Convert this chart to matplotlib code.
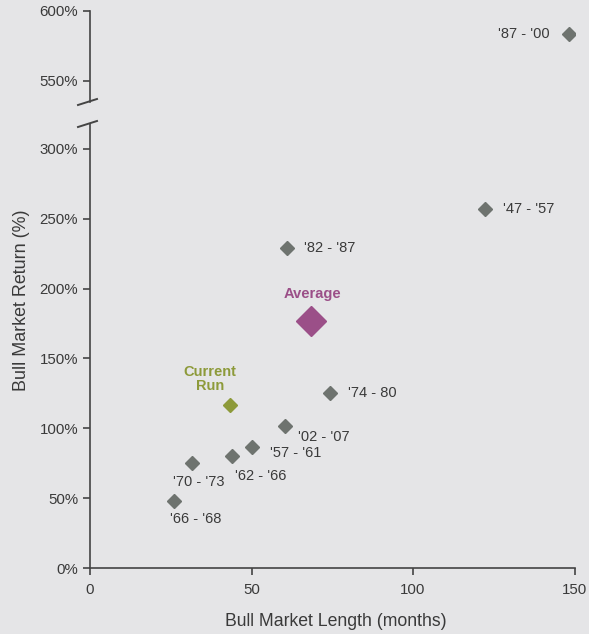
import matplotlib
matplotlib.use("Agg")
import matplotlib.pyplot as plt
from matplotlib.ticker import FuncFormatter

plt.rcParams["font.family"] = ["Liberation Sans", "DejaVu Sans"]

# historical bull markets: (label, length in months, return in %)
labels = ["'87 - '00", "'47 - '57", "'82 - '87", "'74 - 80", "'02 - '07",
          "'57 - '61", "'62 - '66", "'70 - '73", "'66 - '68"]
lengths = [148.3, 122.4, 60.9, 74.3, 60.4, 50.2, 43.9, 31.7, 26.0]
returns = [583.3, 257.0, 228.8, 125.5, 101.6, 86.6, 80.2, 74.9, 48.2]

avg_length, avg_return = 68.4, 176.8
cur_length, cur_return = 43.3, 116.7

x_ticks = [0, 50, 100, 150]
low_ticks = [0, 50, 100, 150, 200, 250, 300]
high_ticks = [550, 600]

bg = "#e5e5e7"
txt = "#3a3a3a"
gray = "#6e736f"
purple = "#9b4f88"
olive = "#8d9a3a"

W, H = 589, 634
fig = plt.figure(figsize=(W / 100, H / 100), dpi=100, facecolor=bg)

left, right = 90 / W, 574.5 / W
ax_lo = fig.add_axes([left, 1 - 568 / H, right - left, (568 - 124) / H])
ax_hi = fig.add_axes([left, 1 - 102 / H, right - left, (102 - 11) / H])

pct = FuncFormatter(lambda v, p: f"{v:.0f}%")
for ax in (ax_lo, ax_hi):
    ax.set_facecolor(bg)
    ax.set_xlim(0, 150)
    for s in ("top", "right"):
        ax.spines[s].set_visible(False)
    for s in ("left", "bottom"):
        ax.spines[s].set_color("#444444")
        ax.spines[s].set_linewidth(1.2)
    ax.yaxis.set_major_formatter(pct)
    ax.tick_params(colors="#444444", labelcolor=txt, labelsize=10.8, length=5, width=1.2)

ax_lo.set_ylim(0, (568 - 124) / 1.397)
ax_lo.set_yticks(low_ticks)
ax_lo.set_xticks(x_ticks)
ax_lo.tick_params(axis="x", pad=6)

ax_hi.set_ylim(600 - 91 / 1.397, 600)
ax_hi.set_yticks(high_ticks)
ax_hi.spines["bottom"].set_visible(False)
ax_hi.set_xticks([])

# points: each on the panel whose range holds it
lo_pts = [(x, y) for x, y in zip(lengths, returns) if y < 400]
hi_pts = [(x, y) for x, y in zip(lengths, returns) if y >= 400]
ax_lo.plot(*zip(*lo_pts), "D", color=gray, markersize=7, zorder=3)
ax_hi.plot(*zip(*hi_pts), "D", color=gray, markersize=7, zorder=3)
ax_lo.plot([avg_length], [avg_return], "D", color=purple, markersize=15, zorder=3)
ax_lo.plot([cur_length], [cur_return], "D", color=olive, markersize=7, zorder=3)

# label offsets in pixels from each point
offsets = [(-19, 0, "right", "center"), (18, 0, "left", "center"),
           (17, 0, "left", "center"), (18, 0, "left", "center"),
           (13, -11, "left", "center"), (18, -6, "left", "center"),
           (3, -20, "left", "center"), (6, -19, "center", "center"),
           (22, -18, "center", "center")]
for lab, x, y, (dx, dy, ha, va) in zip(labels, lengths, returns, offsets):
    ax = ax_hi if y >= 400 else ax_lo
    ax.annotate(lab, (x, y), xytext=(dx, dy), textcoords="offset pixels",
                ha=ha, va=va, fontsize=10.5, color=txt)

ax_lo.annotate("Average", (avg_length, avg_return), xytext=(2, 27),
               textcoords="offset pixels", ha="center", va="center",
               fontsize=10.5, fontweight="bold", color=purple)
ax_lo.annotate("Current\nRun", (cur_length, cur_return), xytext=(-20, 26),
               textcoords="offset pixels", ha="center", va="center",
               fontsize=10.5, fontweight="bold", color=olive, linespacing=1.0)

# axis break marks
for yb in (102, 124):
    yf = 1 - yb / H
    fig.add_artist(plt.Line2D([78 / W, 97 / W], [yf - 3 / H, yf + 3 / H],
                              transform=fig.transFigure, color="#444444", lw=1.4))

fig.text(336 / W, 1 - 621 / H, "Bull Market Length (months)", ha="center",
         va="center", fontsize=12.7, color=txt)
fig.text(22 / W, 1 - 300 / H, "Bull Market Return (%)", ha="center",
         va="center", rotation=90, fontsize=12.9, color=txt)

fig.savefig("out.png", dpi=100, facecolor=bg)
